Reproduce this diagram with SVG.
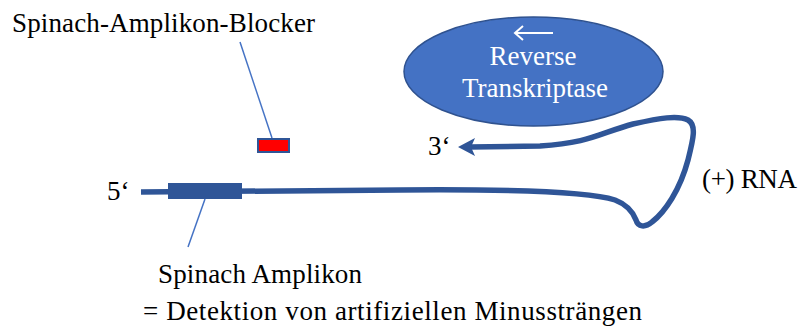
<svg xmlns="http://www.w3.org/2000/svg" width="800" height="329" viewBox="0 0 800 329">
<style>
.t{font-family:"Liberation Serif","Times New Roman",serif;font-size:27px;fill:#000}
.w{fill:#fff}
.lead{stroke:#4472C4;stroke-width:1.5;fill:none}
.strand{stroke:#2F5597;stroke-width:5.5;fill:none;stroke-linecap:butt;stroke-linejoin:round}
</style>
<rect width="800" height="329" fill="#fff"/>
<g id="connectors">
<line class="lead" x1="240" y1="42" x2="272" y2="138"/>
<line class="lead" x1="205" y1="199" x2="188" y2="247"/>
</g>
<g id="rna">
<path class="strand" d="M141,192 L400,190 C520,189 590,192 615,200 C628,205 633,212 636,220 C638,227 645,228 652,222 C665,212 680,190 688,160 C693,140 697,125 688,120 C678,115 660,118 633,124 C600,133 590,143 540,146 L470,147"/>
<polygon points="458,147 475,138 471,147 475,156" fill="#2F5597"/>
<text class="t" x="107" y="200">5‘</text>
<text class="t" x="428" y="155">3‘</text>
<text class="t" x="702" y="188" textLength="95">(+) RNA</text>
</g>
<g id="amplikon">
<rect x="168" y="183" width="74" height="16" fill="#2F5597"/>
<text class="t" x="158" y="283" textLength="204">Spinach Amplikon</text>
</g>
<g id="blocker">
<rect x="258" y="139" width="31" height="13" fill="#FF0000" stroke="#2F5597" stroke-width="2"/>
<text class="t" x="12" y="32" textLength="303">Spinach-Amplikon-Blocker</text>
</g>
<g id="rt">
<ellipse cx="533.5" cy="71.5" rx="129.5" ry="54.5" fill="#4472C4" stroke="#2F528F" stroke-width="1.5"/>
<line x1="515" y1="33" x2="553" y2="33" stroke="#fff" stroke-width="2"/>
<polyline points="523,26 515,33 523,40" fill="none" stroke="#fff" stroke-width="2"/>
<text class="t w" x="533" y="65" text-anchor="middle">Reverse</text>
<text class="t w" x="535" y="97" text-anchor="middle">Transkriptase</text>
</g>
<g id="caption">
<text class="t" x="143" y="320" textLength="499">= Detektion von artifiziellen Minussträngen</text>
</g>
</svg>
